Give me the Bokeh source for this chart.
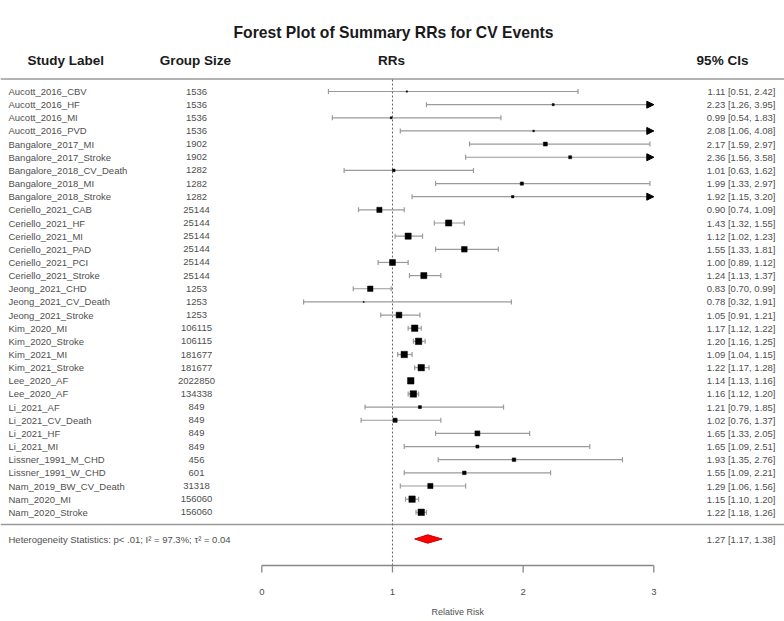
import math
from bokeh.plotting import figure
from bokeh.models import Range1d, ColumnDataSource, Arrow, NormalHead
from bokeh.embed import file_html
from bokeh.resources import INLINE
from bokeh.core.properties import value

# ---------------- data ----------------
study_labels = [
    "Aucott_2016_CBV", "Aucott_2016_HF", "Aucott_2016_MI", "Aucott_2016_PVD",
    "Bangalore_2017_MI", "Bangalore_2017_Stroke", "Bangalore_2018_CV_Death",
    "Bangalore_2018_MI", "Bangalore_2018_Stroke", "Ceriello_2021_CAB",
    "Ceriello_2021_HF", "Ceriello_2021_MI", "Ceriello_2021_PAD",
    "Ceriello_2021_PCI", "Ceriello_2021_Stroke", "Jeong_2021_CHD",
    "Jeong_2021_CV_Death", "Jeong_2021_Stroke", "Kim_2020_MI", "Kim_2020_Stroke",
    "Kim_2021_MI", "Kim_2021_Stroke", "Lee_2020_AF", "Lee_2020_AF", "Li_2021_AF",
    "Li_2021_CV_Death", "Li_2021_HF", "Li_2021_MI", "Lissner_1991_M_CHD",
    "Lissner_1991_W_CHD", "Nam_2019_BW_CV_Death", "Nam_2020_MI", "Nam_2020_Stroke",
]
group_sizes = [1536, 1536, 1536, 1536, 1902, 1902, 1282, 1282, 1282,
               25144, 25144, 25144, 25144, 25144, 25144, 1253, 1253, 1253,
               106115, 106115, 181677, 181677, 2022850, 134338,
               849, 849, 849, 849, 456, 601, 31318, 156060, 156060]
rr = [1.11, 2.23, 0.99, 2.08, 2.17, 2.36, 1.01, 1.99, 1.92, 0.90, 1.43, 1.12,
      1.55, 1.00, 1.24, 0.83, 0.78, 1.05, 1.17, 1.20, 1.09, 1.22, 1.14, 1.16,
      1.21, 1.02, 1.65, 1.65, 1.93, 1.55, 1.29, 1.15, 1.22]
ci_low = [0.51, 1.26, 0.54, 1.06, 1.59, 1.56, 0.63, 1.33, 1.15, 0.74, 1.32, 1.02,
          1.33, 0.89, 1.13, 0.70, 0.32, 0.91, 1.12, 1.16, 1.04, 1.17, 1.13, 1.12,
          0.79, 0.76, 1.33, 1.09, 1.35, 1.09, 1.06, 1.10, 1.18]
ci_high = [2.42, 3.95, 1.83, 4.08, 2.97, 3.58, 1.62, 2.97, 3.20, 1.09, 1.55, 1.23,
           1.81, 1.12, 1.37, 0.99, 1.91, 1.21, 1.22, 1.25, 1.15, 1.28, 1.16, 1.20,
           1.85, 1.37, 2.05, 2.51, 2.76, 2.21, 1.56, 1.20, 1.26]
pooled_rr, pooled_low, pooled_high = 1.27, 1.17, 1.38
tau2 = 0.04
axis_ticks = [0, 1, 2, 3]
x_max = 3.0
title_text = "Forest Plot of Summary RRs for CV Events"
het_text = "Heterogeneity Statistics: p< .01; I\u00b2 = 97.3%; \u03c4\u00b2 = 0.04"

# ---------------- layout helpers ----------------
W, H = 784, 621
PX_PER_UNIT = 130.67
X0_PX = 261.3          # px of RR = 0
ROW0_PX = 91.0         # px of first row
ROW_PX = 13.15


def X(px):
    return (px - X0_PX) / PX_PER_UNIT


def Y(px):
    return (px - ROW0_PX) / ROW_PX


p = figure(width=W, height=H, output_backend="svg", toolbar_location=None,
           x_range=Range1d(X(0), X(W)),
           y_range=Range1d(Y(H), Y(0)),
           min_border=0, outline_line_color=None)
p.axis.visible = False
p.grid.visible = False
p.background_fill_color = "white"

FONT = value("Liberation Sans")
TXT = "#4f4f4f"
LINE = "#9a9a9a"

n = len(study_labels)
rows = list(range(n))

# title
p.text(x=[X(393)], y=[Y(32)], text=[title_text], text_font=FONT,
       text_font_size="15.7px", text_font_style="bold", text_color="#1a1a1a",
       text_align="center", text_baseline="middle")

# headers
hy = Y(60)
for txt, xx, al in [("Study Label", X(27), "left"), ("Group Size", X(195), "center"),
                    ("RRs", X(391), "center"), ("95% CIs", X(722), "center")]:
    p.text(x=[xx], y=[hy], text=[txt], text_font=FONT, text_font_size="13.5px",
           text_font_style="bold", text_color="#1a1a1a", text_align=al,
           text_baseline="middle")

# separator lines
p.segment(x0=[X(0)], x1=[X(W)], y0=[Y(78.5)], y1=[Y(78.5)], line_color=LINE, line_width=1.5)
p.segment(x0=[X(0)], x1=[X(W)], y0=[Y(524)], y1=[Y(524)], line_color=LINE, line_width=1.5)

# reference dotted line at RR = 1
p.segment(x0=[1], x1=[1], y0=[Y(79)], y1=[Y(565)], line_color="#666666",
          line_width=1, line_dash="2 2")

# row texts
p.text(x=[X(8)] * n, y=rows, text=study_labels, text_font=FONT, text_font_size="9.5px",
       text_color=TXT, text_align="left", text_baseline="middle")
p.text(x=[X(196)] * n, y=rows, text=[str(g) for g in group_sizes], text_font=FONT,
       text_font_size="9.5px", text_color=TXT, text_align="center", text_baseline="middle")
ci_txt = [f"{a:.2f} [{b:.2f}, {c:.2f}]" for a, b, c in zip(rr, ci_low, ci_high)]
p.text(x=[X(775)] * n, y=rows, text=ci_txt, text_font=FONT, text_font_size="9.5px",
       text_color=TXT, text_align="right", text_baseline="middle")

# confidence intervals
hi_clip = [min(h, x_max) for h in ci_high]
p.segment(x0=ci_low, x1=hi_clip, y0=rows, y1=rows, line_color=LINE, line_width=1.2)
p.scatter(x=ci_low, y=rows, marker="dash", size=5, angle=math.pi / 2,
          line_color=LINE, line_width=1.2)
cap_x = [h for h in ci_high if h <= x_max]
cap_y = [i for i, h in enumerate(ci_high) if h <= x_max]
p.scatter(x=cap_x, y=cap_y, marker="dash", size=5, angle=math.pi / 2,
          line_color=LINE, line_width=1.2)
arr_rows = [i for i, h in enumerate(ci_high) if h > x_max]
arr_src = ColumnDataSource(dict(x0=[x_max - 0.05] * len(arr_rows), x1=[x_max] * len(arr_rows),
                                y=arr_rows))
p.add_layout(Arrow(x_start="x0", y_start="y", x_end="x1", y_end="y", source=arr_src,
                   line_alpha=0,
                   end=NormalHead(size=7, fill_color="black", line_color="black")))

# squares sized by inverse-variance (random effects) weights
sizes = []
for l, h in zip(ci_low, ci_high):
    se = (math.log(h) - math.log(l)) / (2 * 1.96)
    w = 1.0 / (se * se + tau2)
    sizes.append(0.26 * w)
p.scatter(x=rr, y=rows, marker="square", size=sizes, fill_color="black",
          line_color="black", line_width=0.5)

# pooled diamond
yh = Y(538.5)
dh = 0.32
p.patch(x=[pooled_low, pooled_rr, pooled_high, pooled_rr],
        y=[yh, yh - dh, yh, yh + dh], fill_color="red", line_color="#cc0000")
p.text(x=[X(8)], y=[yh], text=[het_text], text_font=FONT, text_font_size="9.5px",
       text_color=TXT, text_align="left", text_baseline="middle")
p.text(x=[X(775)], y=[yh], text=[f"{pooled_rr:.2f} [{pooled_low:.2f}, {pooled_high:.2f}]"],
       text_font=FONT, text_font_size="9.5px", text_color=TXT, text_align="right",
       text_baseline="middle")

# x axis (drawn R-style, ticks pointing down)
ay = Y(565)
p.segment(x0=[axis_ticks[0]], x1=[axis_ticks[-1]], y0=[ay], y1=[ay], line_color="#888888",
          line_width=1.3)
p.segment(x0=axis_ticks, x1=axis_ticks, y0=[ay] * len(axis_ticks),
          y1=[Y(572)] * len(axis_ticks), line_color="#888888", line_width=1.3)
p.text(x=axis_ticks, y=[Y(591)] * len(axis_ticks), text=[str(t) for t in axis_ticks],
       text_font=FONT, text_font_size="9.5px", text_color=TXT, text_align="center",
       text_baseline="middle")
p.text(x=[1.5], y=[Y(611)], text=["Relative Risk"], text_font=FONT, text_font_size="9px",
       text_color=TXT, text_align="center", text_baseline="middle")

open("out.html", "w").write(file_html(p, INLINE))
